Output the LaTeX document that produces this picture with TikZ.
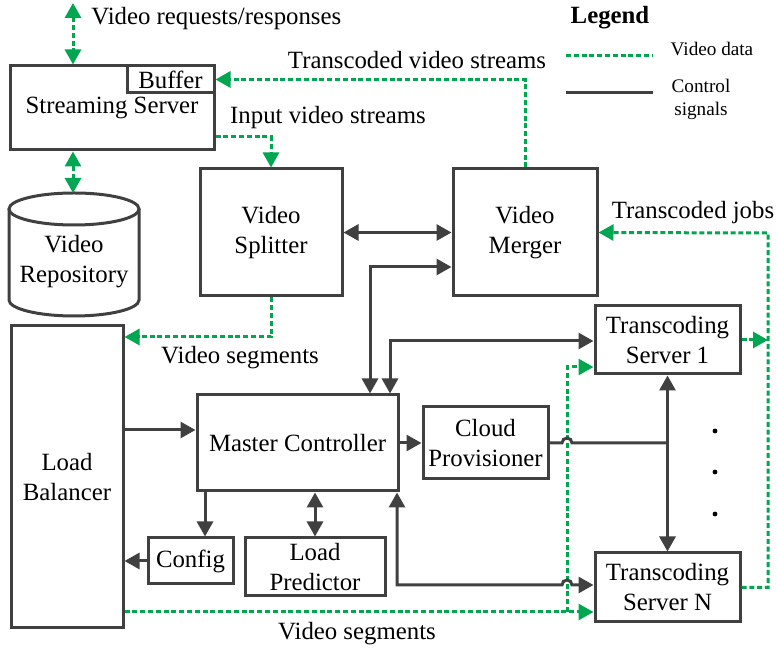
\documentclass[tikz,border=0pt]{standalone}
\usepackage{fontspec}
\setmainfont{Liberation Serif}
\usetikzlibrary{arrows.meta}
\definecolor{ink}{RGB}{64,64,64}
\definecolor{vgreen}{RGB}{0,166,80}

\begin{document}
\begin{tikzpicture}[x=0.5pt,y=-0.5pt,
  font=\fontsize{12.4}{15}\selectfont,
  >={Triangle[length=7.5pt,width=8pt]},
  box/.style={draw=ink, line width=1.5pt, rectangle, inner sep=0pt, align=center, text=black},
  ctrl/.style={draw=ink, line width=1.5pt},
  vdata/.style={draw=vgreen, line width=1.5pt, dash pattern=on 2.5pt off 1.4pt},
  lbl/.style={inner sep=0pt, text=black},
  small/.style={lbl, font=\fontsize{9.6}{11.5}\selectfont, align=center}]

\useasboundingbox (0,0) rectangle (777,651);

% ---- boxes ----
\node[box, minimum width=102pt, minimum height=42pt] (ss) at (112,108) {Streaming Server};
\node[box, minimum width=43.5pt, minimum height=13.5pt] (buf) at (170.5,79.5) {Buffer};
\node[box, minimum width=71pt, minimum height=63.5pt] (split) at (271,232.5) {Video\\Splitter};
\node[box, minimum width=72pt, minimum height=63.5pt] (merge) at (525,232.5) {Video\\Merger};
\node[box, minimum width=56pt, minimum height=151pt] (lb) at (67,477) {Load\\Balancer};
\node[box, minimum width=100.5pt, minimum height=48pt] (mc) at (297.5,443) {Master Controller};
\node[box, minimum width=62.5pt, minimum height=36pt] (cp) at (485.5,443) {Cloud\\Provisioner};
\node[box, minimum width=72.5pt, minimum height=34pt] (ts1) at (667.5,340) {Transcoding\\Server 1};
\node[box, minimum width=72.5pt, minimum height=34.5pt] (tsn) at (667.5,587.5) {Transcoding\\Server N};
\node[box, minimum width=42.5pt, minimum height=23pt] (cfg) at (190.5,561) {Config};
\node[box, minimum width=70pt, minimum height=29pt] (lp) at (315,567) {Load\\Predictor};

% ---- video repository (cylinder) ----
\draw[ink, line width=1.5pt] (74,209) ellipse [x radius=32.5pt, y radius=8pt];
\draw[ink, line width=1.5pt] (9,209) -- (9,300)
  arc[start angle=180, end angle=360, x radius=32.5pt, y radius=8pt] -- (139,209);
\node[lbl, align=center] (repo) at (74,262) {Video\\Repository};
\coordinate (repotop) at (73,193);
\coordinate (client) at (73,3);

% ---- video data paths ----
\draw[vdata, <->] (client) -- (ss.north -| client);
\draw[vdata, <->] (ss.south -| repotop) -- (repotop);
\draw[vdata, ->] (ss.east |- 0,137) -| (split.north);
\draw[vdata, ->] (merge.north) |- (buf.east);
\draw[vdata, ->] (split.south) |- (lb.east |- 0,337);
\draw[vdata, ->] (lb.east |- 0,612) -- (tsn.west |- 0,612);
\draw[vdata, ->] (567,612) |- (ts1.west |- 0,367);
\coordinate (rj) at (768,340);
\draw[vdata, ->] (ts1.east) -- (rj);
\draw[vdata, ->] (tsn.east) -| (768,233) -- (merge.east);

% ---- control paths ----
\draw[ctrl, <->] (split.east) -- (merge.west);
\draw[ctrl, <->] (mc.north -| 370,0) |- (merge.west |- 0,267);
\draw[ctrl, <->] (mc.north -| 390,0) |- (ts1.west |- 0,341);
\draw[ctrl, ->] (lb.east |- 0,430) -- (mc.west |- 0,430);
\draw[ctrl, ->] (mc.east) -- (cp.west);
\coordinate (junc) at (667.5,443);
\draw[ctrl] (cp.east) -- (562,443)
  arc[start angle=180, end angle=0, radius=2.5pt] -- (junc);
\draw[ctrl, <->] (ts1.south) -- (tsn.north);
\draw[ctrl, <->] (mc.south -| 397,0) |- (562,585)
  arc[start angle=180, end angle=0, radius=2.5pt] -- (tsn.west |- 0,585);
\draw[ctrl, ->] (mc.south -| 205,0) -- (cfg.north -| 205,0);
\draw[ctrl, <->] (mc.south -| lp.north) -- (lp.north);
\draw[ctrl, ->] (cfg.west) -- (lb.east |- cfg.west);

% ---- ellipsis dots ----
\foreach \yy in {431,472,514} \fill (715,\yy) circle[radius=1.2pt];

% ---- labels ----
\node[lbl, anchor=west] (lreq) at (91,19) {Video requests/responses};
\node[lbl] (ltvs) at (417,60) {Transcoded video streams};
\node[lbl] (livs) at (328,118) {Input video streams};
\node[lbl] (lvs1) at (240,358) {Video segments};
\node[lbl] (ltj) at (693,213) {Transcoded jobs};
\node[lbl] (lvs2) at (357,634) {Video segments};

% ---- legend ----
\node[lbl, font=\fontsize{12.4}{15}\selectfont\bfseries] (leg) at (610,18) {Legend};
\coordinate (lg1a) at (566,56); \coordinate (lg1b) at (653,56);
\coordinate (lg2a) at (566,93); \coordinate (lg2b) at (653,93);
\draw[vdata] (lg1a) -- (lg1b);
\draw[ctrl] (lg2a) -- (lg2b);
\node[small] (legv) at (712,49) {Video data};
\node[small] (legc) at (701,99) {Control\\signals};

\end{tikzpicture}
\end{document}
